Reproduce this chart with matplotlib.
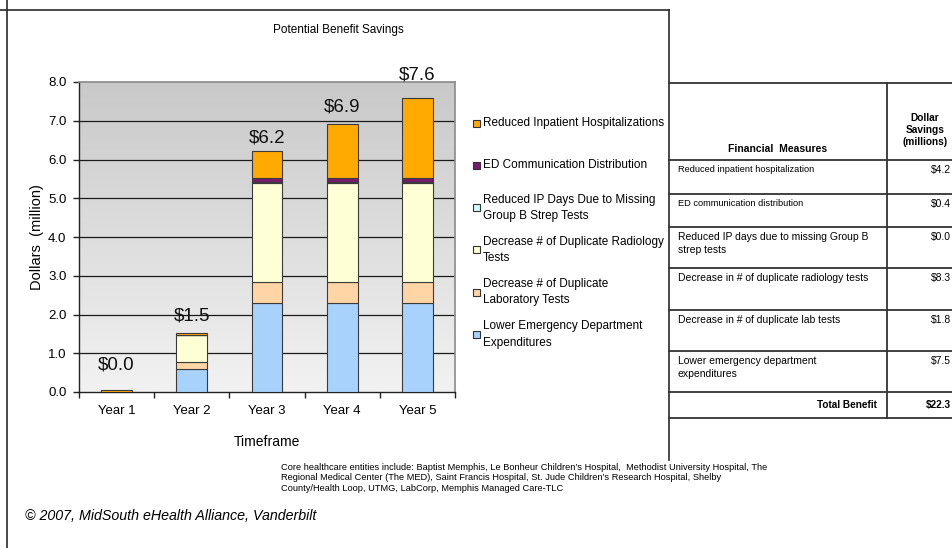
import matplotlib.pyplot as plt
import numpy as np
from matplotlib.patches import Rectangle
from matplotlib.colors import LinearSegmentedColormap

plt.rcParams['font.family'] = ['Liberation Sans', 'DejaVu Sans']

# chart data (million dollars)
years = ['Year 1', 'Year 2', 'Year 3', 'Year 4', 'Year 5']
lower_ed = [0.0, 0.60, 2.30, 2.30, 2.30]
dup_lab = [0.0, 0.17, 0.55, 0.55, 0.55]
dup_rad = [0.0, 0.69, 2.55, 2.55, 2.55]
group_b = [0.0, 0.0, 0.01, 0.01, 0.01]
ed_comm = [0.0, 0.01, 0.10, 0.10, 0.10]
inpatient = [0.04, 0.06, 0.71, 1.41, 2.09]
totals = ['$0.0', '$1.5', '$6.2', '$6.9', '$7.6']

series = [lower_ed, dup_lab, dup_rad, group_b, ed_comm, inpatient]
series_labels = ['Lower Emergency Department\nExpenditures',
                 'Decrease # of Duplicate\nLaboratory Tests',
                 'Decrease # of Duplicate Radiology\nTests',
                 'Reduced IP Days Due to Missing\nGroup B Strep Tests',
                 'ED Communication Distribution',
                 'Reduced Inpatient Hospitalizations']
colors = ['#a8d2fc', '#ffd5a6', '#ffffd6', '#ccffff', '#7a1a6e', '#ffaa00']

# table data
measures = ['Reduced inpatient hospitalization',
            'ED communication distribution',
            'Reduced IP days due to missing Group B\nstrep tests',
            'Decrease in # of duplicate radiology tests',
            'Decrease in # of duplicate lab tests',
            'Lower emergency department\nexpenditures']
savings = ['$4.2', '$0.4', '$0.0', '$8.3', '$1.8', '$7.5']
total_benefit = '$22.3'

W, H = 953, 548
fig = plt.figure(figsize=(W / 100, H / 100), dpi=100)

# overlay in pixel coordinates for frames, table and notes
bg = fig.add_axes([0, 0, 1, 1], zorder=0)
bg.set_xlim(0, W)
bg.set_ylim(H, 0)
bg.axis('off')

lc = '#2a2a2a'
bg.plot([7, 7], [0, H], color=lc, lw=1.2)
bg.plot([0, 669], [9.5, 9.5], color=lc, lw=1.2)
bg.plot([669, 669], [9.5, 460], color=lc, lw=1.2)

# chart axes
L, R, T, B = 79, 455, 82, 392
ax = fig.add_axes([L / W, 1 - B / H, (R - L) / W, (B - T) / H], zorder=2)
x = np.arange(len(years))
grad = LinearSegmentedColormap.from_list('g', ['#c9c9c9', '#f2f2f2'])
ax.imshow(np.linspace(0, 1, 256).reshape(-1, 1), cmap=grad, origin='upper',
          extent=(-0.5, len(years) - 0.5, 0, 8), aspect='auto', zorder=0)
for yv in range(1, 8):
    ax.axhline(yv, color='#1a1a1a', lw=0.9, zorder=1)

bottom = np.zeros(len(years))
for vals, col in zip(series, colors):
    ax.bar(x, vals, 0.41, bottom=bottom, color=col, edgecolor='#3a3a3a', linewidth=0.8, zorder=3)
    bottom += np.array(vals)

label_off = [25, 17, 13, 17, 23]
for xi, top, txt, off in zip(x, bottom, totals, label_off):
    ax.annotate(txt, (xi, top), xytext=(0, off * 0.72), textcoords='offset points',
                ha='center', va='center', fontsize=13.5, color='#111111')

ax.set_xlim(-0.5, len(years) - 0.5)
ax.set_ylim(0, 8)
ax.set_yticks(np.arange(0, 8.1, 1))
ax.set_yticklabels([f'{v:.1f}' for v in np.arange(0, 8.1, 1)], fontsize=9.5)
ax.set_xticks(x)
ax.set_xticklabels(years, fontsize=9.5)
ax.set_xticks(np.arange(-0.5, len(years), 1), minor=True)
ax.tick_params(axis='x', which='major', length=0, pad=9)
ax.tick_params(axis='x', which='minor', length=4, color='#222222', width=1)
ax.tick_params(axis='y', length=4, color='#222222', width=1, pad=5)
for s in ['top', 'right']:
    ax.spines[s].set_color('#8a8a8a')
    ax.spines[s].set_linewidth(1.2)
for s in ['left', 'bottom']:
    ax.spines[s].set_color('#222222')
    ax.spines[s].set_linewidth(1)
ax.set_xlabel('Timeframe', fontsize=10, labelpad=13)
ax.set_ylabel('Dollars  (million)', fontsize=10.5, labelpad=3)

bg.text(338, 30, 'Potential Benefit Savings', ha='center', va='center', fontsize=8.5)

# legend, drawn top to bottom in reverse stacking order
for i, (lab, col) in enumerate(zip(series_labels[::-1], colors[::-1])):
    yc = 123 + 42.3 * i
    bg.add_patch(Rectangle((473, yc - 3.5), 7, 7, facecolor=col, edgecolor='#333333', lw=0.8))
    bg.text(483, yc, lab, ha='left', va='center', fontsize=8.5, linespacing=1.45)

# table
tl = '#333333'
row_lines = [83, 160, 194, 227, 268, 310, 351, 392, 418]
for yl in row_lines:
    bg.plot([669, W], [yl, yl], color=tl, lw=1.3)
bg.plot([887, 887], [83, 418], color=tl, lw=1.3)
bg.text(778, 149, 'Financial  Measures', ha='center', va='center', fontsize=7.5, fontweight='bold')
bg.text(925, 130, 'Dollar\nSavings\n(millions)', ha='center', va='center', fontsize=7.3,
        fontweight='bold', linespacing=1.3)
row_fs = [6.7, 6.7, 7.5, 7.5, 7.5, 7.5]
for i, (m, v, fs) in enumerate(zip(measures, savings, row_fs)):
    top = row_lines[i + 1]
    bg.text(678, top + 5, m, ha='left', va='top', fontsize=fs, linespacing=1.35)
    bg.text(951, top + 5, v, ha='right', va='top', fontsize=7.5)
bg.text(877, 405, 'Total Benefit', ha='right', va='center', fontsize=7.2, fontweight='bold')
bg.text(951, 405, total_benefit, ha='right', va='center', fontsize=7.2, fontweight='bold')

bg.text(281, 478, "Core healthcare entities include: Baptist Memphis, Le Bonheur Children\u2019s Hospital,  Methodist University Hospital, The\n"
        "Regional Medical Center (The MED), Saint Francis Hospital, St. Jude Children\u2019s Research Hospital, Shelby\n"
        "County/Health Loop, UTMG, LabCorp, Memphis Managed Care-TLC",
        ha='left', va='center', fontsize=6.7, linespacing=1.22)
bg.text(25, 516, '\u00a9 2007, MidSouth eHealth Alliance, Vanderbilt', ha='left', va='center',
        fontsize=10.3, style='italic')

fig.savefig('out.png', dpi=100)
